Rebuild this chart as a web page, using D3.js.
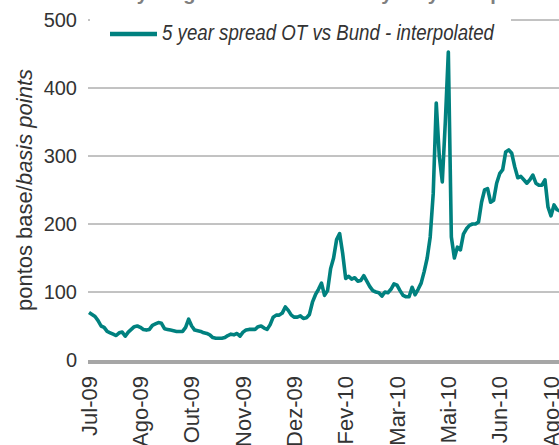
<!DOCTYPE html>
<html lang="pt">
<head>
    <meta charset="UTF-8">
    <title>5 year spread OT vs Bund</title>
    <script src="https://d3js.org/d3.v7.min.js"></script>
    <style>
        body {
            margin: 0;
            background: #fff;
        }

        svg text {
            font-family: "Liberation Sans", Arial, sans-serif;
            fill: #333;
        }

        .grid line {
            stroke: #868686;
            stroke-width: 1px;
        }

        .baseline {
            stroke: #a6a6a6;
            stroke-width: 4px;
        }

        .spread {
            fill: none;
            stroke: #00817f;
            stroke-width: 3.6px;
            stroke-linejoin: round;
        }
    </style>
</head>
<body>

<script>
    var width = 559, height = 445;

    // month labels on the category axis (one every 17 points)
    var monthLabels = ["Jul-09", "Ago-09", "Out-09", "Nov-09", "Dez-09",
                       "Fev-10", "Mar-10", "Mai-10", "Jun-10", "Ago-10"];
    var labelEvery = 17;

    var yTicks = [0, 100, 200, 300, 400, 500];

    var seriesName = "5 year spread OT vs Bund - interpolated";

    // basis points
    var spread = [
        70, 67, 64, 58, 50, 48, 42, 40, 38, 36,
        40, 41, 35, 41, 45, 49, 50, 48, 45, 44,
        45, 51, 53, 55, 54, 46, 45, 44, 43, 42,
        42, 42, 48, 60, 50, 44, 43, 42, 40, 39,
        37, 33, 32, 32, 32, 33, 36, 38, 37, 39,
        35, 41, 44, 45, 45, 45, 49, 50, 47, 45,
        52, 63, 66, 66, 69, 78, 73, 66, 63, 63,
        65, 61, 62, 67, 85, 96, 104, 113, 95, 102,
        134, 150, 177, 186, 157, 120, 123, 119, 121, 116,
        117, 124, 116, 108, 102, 100, 99, 94, 100, 99,
        104, 112, 110, 102, 95, 93, 93, 107, 96, 104,
        113, 130, 150, 181, 245, 378, 300, 262, 350, 453,
        181, 150, 166, 162, 185, 193, 198, 200, 200, 203,
        232, 250, 252, 232, 235, 260, 274, 280, 306, 309,
        304, 284, 268, 270, 265, 260, 265, 272, 260, 257,
        257, 265, 225, 212, 228, 221, 219, 213
    ];

    var svg = d3.select("body").append("svg")
        .attr("width", width)
        .attr("height", height);

    var x = d3.scaleLinear()
        .domain([0, labelEvery * (monthLabels.length - 1)])
        .range([89, 551]);

    var y = d3.scaleLinear()
        .domain([0, 500])
        .range([360, 20]);

    // title, mostly above the visible area
    svg.append("text")
        .attr("x", 100)
        .attr("y", 0)
        .style("font-size", "20px")
        .style("font-weight", "bold")
        .style("fill", "#7f7f7f")
        .text("Daily long term bond rates: 5 year yield spread");

    // gridlines
    svg.append("g")
        .attr("class", "grid")
        .selectAll("line")
        .data(yTicks.filter(function(d){ return d > 0; }))
        .enter().append("line")
        .attr("x1", 88)
        .attr("x2", width)
        .attr("y1", function(d){ return y(d); })
        .attr("y2", function(d){ return y(d); });

    svg.append("line")
        .attr("class", "baseline")
        .attr("x1", 88)
        .attr("x2", width)
        .attr("y1", y(0) + 2)
        .attr("y2", y(0) + 2);

    // y tick labels
    svg.append("g")
        .selectAll("text")
        .data(yTicks)
        .enter().append("text")
        .attr("x", 77)
        .attr("y", function(d){ return y(d); })
        .attr("dy", "0.35em")
        .attr("text-anchor", "end")
        .style("font-size", "20px")
        .text(function(d){ return d; });

    // x labels, rotated
    svg.append("g")
        .selectAll("text")
        .data(monthLabels)
        .enter().append("text")
        .attr("transform", function(d, i){
            return "translate(" + x(i * labelEvery) + ",376) rotate(-90)";
        })
        .attr("dy", "0.35em")
        .attr("text-anchor", "end")
        .style("font-size", "22px")
        .text(function(d){ return d; });

    // y axis title
    var yTitle = svg.append("text")
        .attr("transform", "translate(32,190) rotate(-90)")
        .attr("text-anchor", "middle")
        .style("font-size", "22px");
    yTitle.append("tspan").text("pontos base/");
    yTitle.append("tspan").style("font-style", "italic").text("basis points");

    // the series
    var line = d3.line()
        .x(function(d, i){ return x(i); })
        .y(function(d){ return y(d); });

    svg.append("path")
        .datum(spread)
        .attr("class", "spread")
        .attr("d", line);

    // legend, on a white box over the top gridline
    var legend = svg.append("g");
    legend.append("rect")
        .attr("x", 90)
        .attr("y", 8)
        .attr("width", 421)
        .attr("height", 38)
        .attr("fill", "#fff");
    legend.append("line")
        .attr("x1", 110)
        .attr("x2", 157)
        .attr("y1", 34)
        .attr("y2", 34)
        .attr("stroke", "#00817f")
        .attr("stroke-width", 4.5);
    legend.append("text")
        .attr("x", 162)
        .attr("y", 40)
        .attr("textLength", 332)
        .attr("lengthAdjust", "spacingAndGlyphs")
        .style("font-size", "22px")
        .style("font-style", "italic")
        .text(seriesName);
</script>
</body>
</html>
